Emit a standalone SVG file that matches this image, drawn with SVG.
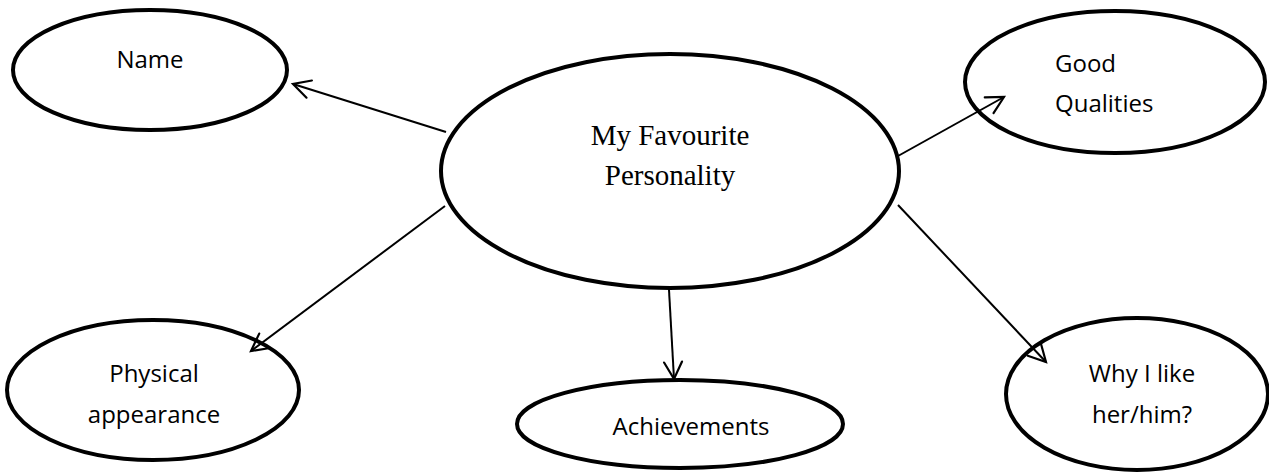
<svg xmlns="http://www.w3.org/2000/svg" width="1269" height="472" viewBox="0 0 1269 472">
<defs>
<style>
.node ellipse{fill:none;stroke:#000;stroke-width:4}
.lbl{font-family:"Open Sans","Liberation Sans",sans-serif;font-size:24px;fill:#000}
.ser{font-family:"Liberation Serif","Times New Roman",serif;font-size:29px;fill:#000;text-anchor:middle}
.conn line{stroke:#000;stroke-width:2;fill:none;marker-end:url(#arr)}
</style>
<marker id="arr" viewBox="0 0 20 20" refX="18" refY="10" markerWidth="20" markerHeight="20" markerUnits="userSpaceOnUse" orient="auto" overflow="visible">
<path d="M1,1 L18,10 L1,19" fill="none" stroke="#000" stroke-width="2.2" stroke-linecap="round" stroke-linejoin="miter"/>
</marker>
</defs>
<rect width="1269" height="472" fill="#fff"/>
<g id="name" class="node">
<ellipse cx="150" cy="70" rx="137" ry="60"/>
<text class="lbl" x="150" y="68" text-anchor="middle">Name</text>
</g>
<g id="center" class="node">
<ellipse cx="670" cy="171" rx="229" ry="117"/>
<text class="ser" x="670" y="145">My Favourite</text>
<text class="ser" x="670" y="185">Personality</text>
</g>
<g id="good" class="node">
<ellipse cx="1115" cy="82" rx="150" ry="71"/>
<text class="lbl" x="1055" y="72">Good</text>
<text class="lbl" x="1055" y="112">Qualities</text>
</g>
<g id="physical" class="node">
<ellipse cx="153" cy="390" rx="146" ry="70"/>
<text class="lbl" x="154" y="382" text-anchor="middle">Physical</text>
<text class="lbl" x="154" y="423" text-anchor="middle">appearance</text>
</g>
<g id="achievements" class="node">
<ellipse cx="680" cy="424" rx="163" ry="44"/>
<text class="lbl" x="691" y="435" text-anchor="middle">Achievements</text>
</g>
<g id="why" class="node">
<ellipse cx="1137" cy="394" rx="131" ry="76"/>
<text class="lbl" x="1142" y="382" text-anchor="middle">Why I like</text>
<text class="lbl" x="1142" y="423" text-anchor="middle">her/him?</text>
</g>
<g id="connectors" class="conn">
<line x1="446" y1="132" x2="293" y2="84"/>
<line x1="898" y1="156" x2="1004" y2="97"/>
<line x1="445" y1="206" x2="251" y2="351"/>
<line x1="669" y1="290" x2="674" y2="379"/>
<line x1="898" y1="205" x2="1046" y2="362"/>
</g>
</svg>
